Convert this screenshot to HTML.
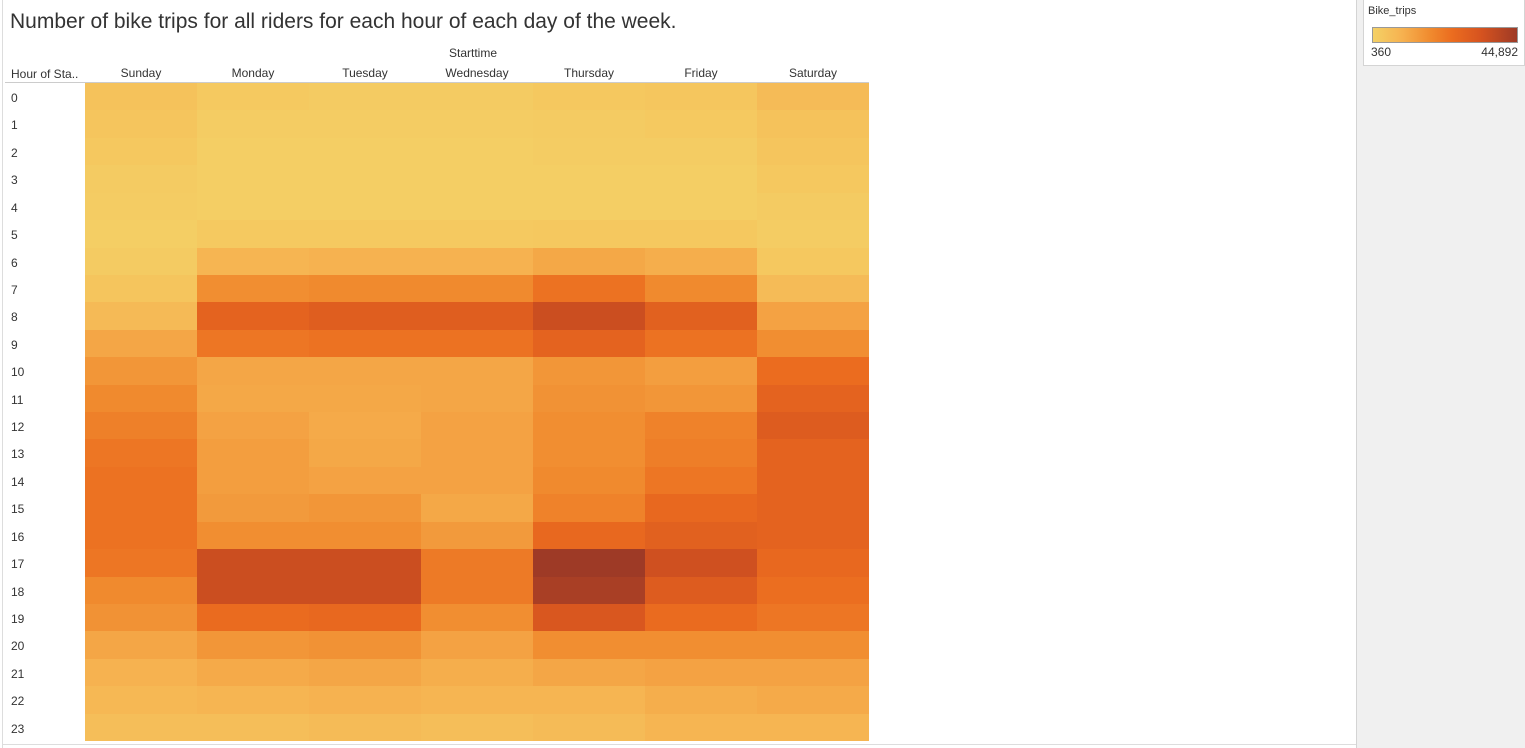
<!DOCTYPE html>
<html><head><meta charset="utf-8"><style>
body{margin:0;width:1525px;height:748px;background:#fff;font-family:"Liberation Sans",sans-serif;position:relative;overflow:hidden}
.t{position:absolute;white-space:nowrap;color:#333;font-size:12px}
</style></head><body>
<div style="position:absolute;left:2px;top:0;width:1px;height:748px;background:#ddd"></div>
<div style="position:absolute;left:2px;top:744px;width:1354px;height:1px;background:#ddd"></div>
<div class="t" style="left:10px;top:10px;font-size:21px;color:#333">Number of bike trips for all riders for each hour of each day of the week.</div>
<div style="position:absolute;left:1356px;top:0;width:169px;height:748px;background:#f0f0f0;border-left:1px solid #d4d4d4"></div>
<div style="position:absolute;left:1363px;top:0;width:160px;height:65px;background:#fff;border:1px solid #d4d4d4;border-top:none">
 <div class="t" style="left:4px;top:5px;font-size:11px">Bike_trips</div>
 <div id="lg" style="position:absolute;left:8px;top:27px;width:144px;height:14px;border:1px solid #999"></div>
 <div class="t" style="left:7px;top:45px;font-size:12px">360</div>
 <div class="t" style="right:6px;top:45px;font-size:12px">44,892</div>
</div>
<div class="t" style="left:449px;top:46px;font-size:12px">Starttime</div>
<div class="t" style="left:11px;top:67px;font-size:12px">Hour of Sta..</div>
<div style="position:absolute;left:5px;top:82px;width:864px;height:1px;background:#ccc"></div>
<div id="chart"></div>
<script>
const days=["Sunday","Monday","Tuesday","Wednesday","Thursday","Friday","Saturday"];
const hours=["0","1","2","3","4","5","6","7","8","9","10","11","12","13","14","15","16","17","18","19","20","21","22","23"];
// values in trips, per day, hours 0..23
const sunday=[4800,3900,3000,2100,1700,1250,2100,3900,7000,11900,15500,18200,20400,22600,23500,23500,23500,22600,18200,16400,12000,9300,7500,5700];
const monday=[2600,1700,1250,1250,1250,2600,8400,17300,28000,22600,12000,11500,12800,13700,13700,14600,17300,36000,36000,25300,15500,11000,8400,5700];
const tuesday=[2100,1700,1250,1250,1250,2600,9300,18200,29800,23500,12000,11500,11000,11500,12800,15500,17300,36000,36000,26200,16400,12000,9300,6600];
const wednesday=[2100,1700,1250,1250,1250,2600,9300,18200,29800,23500,12000,12000,12800,12800,12800,11500,14600,21700,21700,17300,12800,10200,8400,5700];
const thursday=[3000,2100,1700,1250,1250,3000,11500,23500,36000,28000,15500,16400,17300,17300,18200,20000,26200,44900,42700,32400,17300,12000,8400,6600];
const friday=[3500,2600,1700,1250,1250,3000,10200,18200,28900,23500,13700,15500,20000,20800,22600,26200,28900,35100,30600,25300,17300,12800,10200,8400];
const saturday=[6600,4800,3900,3000,2100,1700,3000,6600,12800,17300,24900,28000,30600,28000,28000,28000,28000,26200,24400,22600,17300,12800,11000,8400];
const series=[sunday,monday,tuesday,wednesday,thursday,friday,saturday];
const vmin=360,vmax=44892;
const stops=[[0,[244,209,102]],[0.2,[246,178,80]],[0.4,[240,138,46]],[0.55,[235,108,31]],[0.75,[214,83,31]],[1,[158,58,38]]];
function color(v){let t=(v-vmin)/(vmax-vmin);t=Math.max(0,Math.min(1,t));
 for(let i=1;i<stops.length;i++){if(t<=stops[i][0]){const a=stops[i-1],b=stops[i];const f=(t-a[0])/(b[0]-a[0]);
 return 'rgb('+a[1].map((c,k)=>Math.round(c+(b[1][k]-c)*f)).join(',')+')';}}return 'rgb(158,58,38)';}
document.getElementById('lg').style.background='linear-gradient(to right,'+stops.map(s=>'rgb('+s[1].join(',')+') '+(s[0]*100)+'%').join(',')+')';
const x0=85,cw=112,y0=83,rh=(741-83)/24;
function xs(i){return x0+i*cw;}function ys(j){return y0+j*rh;}
const ch=document.getElementById('chart');
days.forEach((d,i)=>{const e=document.createElement('div');e.className='t';
 
 
 e.style.left=xs(i)+'px';e.style.width=cw+'px';e.style.textAlign='center';e.style.top='66px';e.textContent=d;ch.appendChild(e);});
hours.forEach((h,j)=>{const e=document.createElement('div');e.className='t';
 
 
 e.style.left='11px';e.style.top=(ys(j)+8)+'px';e.textContent=h;ch.appendChild(e);});
series.forEach((s,i)=>s.forEach((v,j)=>{const e=document.createElement('div');
 
 
 const top=Math.round(ys(j)),bot=Math.round(ys(j+1));
 e.style.cssText='position:absolute;left:'+xs(i)+'px;top:'+top+'px;width:'+cw+'px;height:'+(bot-top)+'px;background:'+color(v);
 e.title=days[i]+' '+hours[j]+': '+v;ch.appendChild(e);}));
</script>
</body></html>
